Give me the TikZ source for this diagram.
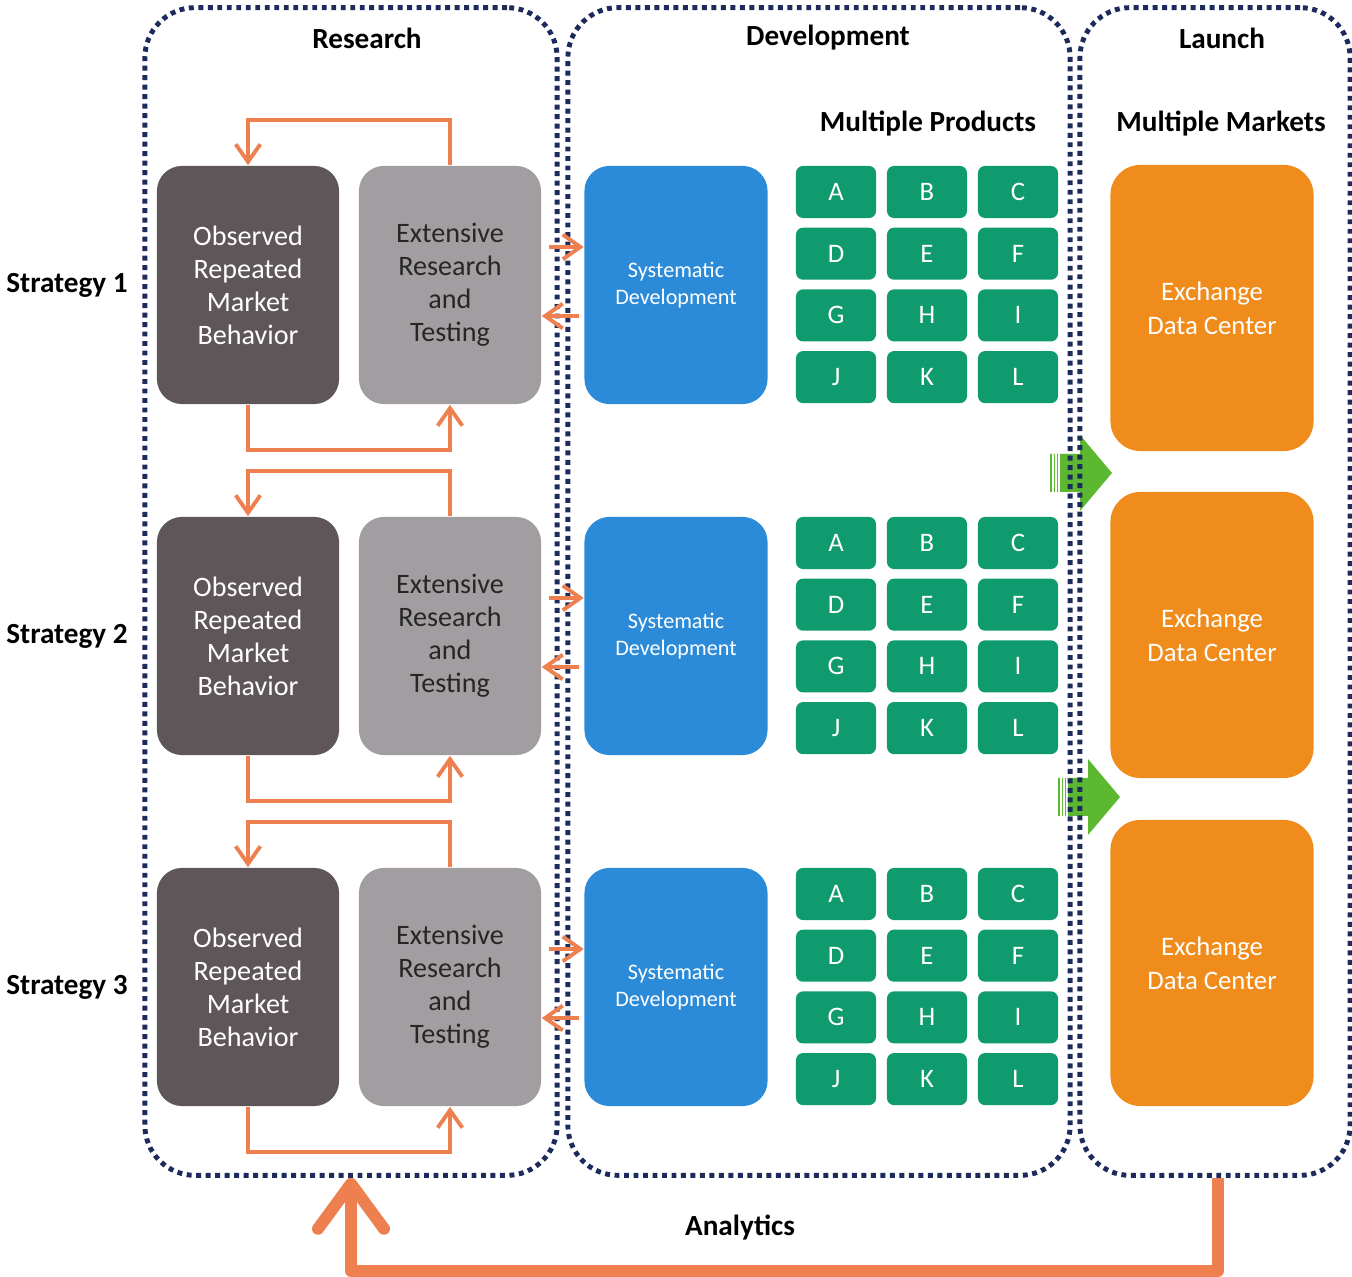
\documentclass[tikz,border=0pt]{standalone}
\usepackage{fontspec}
\setmainfont{Carlito}
\usetikzlibrary{arrows.meta,positioning}
\definecolor{slate}{HTML}{5F5659}
\definecolor{ash}{HTML}{A29DA0}
\definecolor{azure}{HTML}{2B8BD8}
\definecolor{jade}{HTML}{0F9B6E}
\definecolor{amber}{HTML}{F08C1C}
\definecolor{salmon}{HTML}{EE7F4E}
\definecolor{leaf}{HTML}{5CB830}
\definecolor{navy}{HTML}{1D2B5C}

\tikzset{
  zone/.style={draw=navy, line width=1.4pt, dash pattern=on 1.4pt off 1.3pt,
    rounded corners=0.5cm, inner sep=0},
  card/.style={rounded corners=0.25cm, minimum width=1.82cm, minimum height=2.38cm,
    align=center, inner sep=0, font=\fontsize{8}{9.4}\selectfont},
  prodtile/.style={fill=jade, text=white, rounded corners=0.07cm, minimum width=0.8cm,
    minimum height=0.52cm, inner sep=0, font=\fontsize{7.6}{9}\selectfont},
  heading/.style={font=\fontsize{8.3}{10}\selectfont\bfseries},
  feedback/.style={draw=salmon, line width=1.1pt, -{Straight Barb[length=5pt,width=7pt]}},
  analytics/.style={draw=salmon, line width=3.4pt, line join=round,
    -{Straight Barb[length=0.45cm,width=0.66cm,round]}}
}

\begin{document}
\begin{tikzpicture}[x=0.01cm, y=-0.01cm]
\useasboundingbox (0,0) rectangle (1352,1277);

% green arrows between the markets
\foreach \gx/\gy in {1050/473, 1058/797}{
  \fill[leaf] (\gx,\gy-19) -- ++(30,0) -- ++(0,-19) -- (\gx+62,\gy)
    -- (\gx+30,\gy+38) -- ++(0,-19) -- (\gx,\gy+19) -- cycle;
  \foreach \s in {3,6,9}
    \draw[white, line width=0.5pt] (\gx+\s,\gy-19) -- (\gx+\s,\gy+19);
}

% the three phases
\node[zone, minimum width=4.12cm, minimum height=11.67cm] (research) at (351,591.5) {};
\node[zone, minimum width=5.02cm, minimum height=11.67cm] (development) at (819,591.5) {};
\node[zone, minimum width=2.70cm, minimum height=11.67cm] (launch) at (1215,591.5) {};

\node[heading] (researchtitle) at (367,38) {Research};
\node[heading] (developmenttitle) at (828,38) {Development};
\node[heading] (launchtitle) at (1222,38) {Launch};
\node[heading] (products) at (928,124) {Multiple Products};
\node[heading] (markets) at (1221,124) {Multiple Markets};

% one row per strategy
\foreach \r/\dy in {1/0, 2/351, 3/702}{
  \node[heading] (strategy\r) at (67,285+\dy) {Strategy \r};
  \node[card, fill=slate, text=white] (obs\r) at (248,285+\dy)
    {Observed\\Repeated\\Market\\Behavior};
  \node[card, fill=ash, text=black!85] (ext\r) at (450,285+\dy)
    {Extensive\\Research\\and\\Testing};
  \node[card, fill=azure, text=white, minimum width=1.83cm,
    font=\fontsize{6.3}{7.6}\selectfont] (sys\r) at (676,285+\dy)
    {Systematic\\Development};

  \foreach \l [count=\i from 0] in {A,B,C,D,E,F,G,H,I,J,K,L}{
    \pgfmathtruncatemacro{\col}{mod(\i,3)}
    \pgfmathtruncatemacro{\row}{int(\i/3)}
    \node[prodtile] (prod\r\l) at (836+91*\col,192+61.7*\row+\dy) {\l};
  }

  \draw[feedback] (ext\r.north) -- ++(0,-45) -| (obs\r.north);
  \draw[feedback] (obs\r.south) -- ++(0,45) -| (ext\r.south);
  \draw[feedback, shorten <=0.07cm] ([yshift=0.38cm]ext\r.east) -- ([yshift=0.38cm]sys\r.west);
  \draw[feedback, shorten <=0.05cm] ([yshift=-0.31cm]sys\r.west) -- ([yshift=-0.31cm]ext\r.east);
}

% exchanges
\foreach \m/\my in {1/308, 2/635, 3/963}
  \node[card, fill=amber, text=white, minimum width=2.03cm, minimum height=2.86cm,
    rounded corners=0.3cm, font=\fontsize{7.6}{9.6}\selectfont] (exch\m) at (1212,\my)
    {Exchange\\Data Center};

% analytics loop back to research
\draw[analytics] ([xshift=0.03cm]launch.south) -- ++(0,93) -| (research.south);
\node[heading] (analyticslabel) at (740,1228) {Analytics};

\end{tikzpicture}
\end{document}
